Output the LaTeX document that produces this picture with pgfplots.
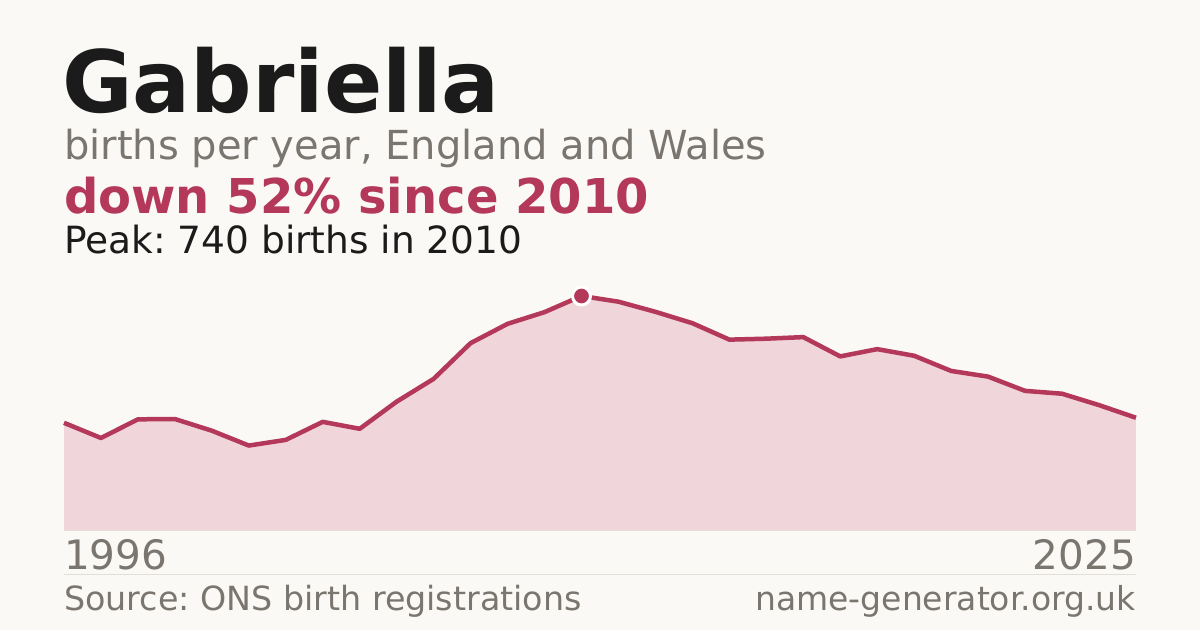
\documentclass[border=0pt]{standalone}
\usepackage{fontspec}
\setmainfont{DejaVu Sans}
\usepackage{pgfplots}
\pgfplotsset{compat=1.18}
\usepackage{pgfplotstable}

\definecolor{bg}{HTML}{FAF9F5}
\definecolor{ink}{HTML}{1B1B1B}
\definecolor{muted}{HTML}{7A756E}
\definecolor{accent}{HTML}{B3385A}
\definecolor{areafill}{HTML}{F0D5DA}
\definecolor{rule}{HTML}{E2DED8}

% births per year
\pgfplotstableread{
year births
1996 339
1997 291
1998 350
1999 351
2000 314
2001 267
2002 285
2003 342
2004 320
2005 406
2006 478
2007 591
2008 652
2009 689
2010 740
2011 722
2012 690
2013 654
2014 602
2015 605
2016 610
2017 549
2018 572
2019 551
2020 503
2021 485
2022 440
2023 431
2024 395
2025 355
}\births

\begin{document}
\frenchspacing
\begin{tikzpicture}[x=1pt,y=1pt]
  \fill[bg] (0,0) rectangle (1200,630);

  \node[anchor=base west,inner sep=0,text=ink]
    at (62,517) {\fontsize{86}{96}\selectfont\bfseries Gabriella};
  \node[anchor=base west,inner sep=0,text=muted]
    at (64,470) {\fontsize{40}{46}\selectfont births per year, England and Wales};
  \node[anchor=base west,inner sep=0,text=accent]
    at (64,416) {\fontsize{48}{54}\selectfont\bfseries down 52\% since 2010};
  \node[anchor=base west,inner sep=0,text=ink]
    at (64,376) {\fontsize{37.5}{42}\selectfont Peak: 740 births in 2010};

  \begin{axis}[
      at={(64pt,100pt)}, anchor=south west,
      scale only axis, width=1072pt, height=234pt,
      xmin=1996, xmax=2025, ymin=0, ymax=740,
      axis lines=none, clip=false,
    ]
    \addplot[fill=areafill, draw=none] table[x=year,y=births]{\births} \closedcycle;
    \draw[rule, line width=1pt] (rel axis cs:0,0) -- (rel axis cs:1,0);
    \addplot[accent, line width=4.5pt, line join=round, mark=none] table[x=year,y=births]{\births};
    \addplot[only marks, mark=*, mark size=9pt,
      mark options={fill=accent, draw=white, line width=3pt}]
      coordinates {(2010,740)};
  \end{axis}

  \node[anchor=base west,inner sep=0,text=muted]
    at (64,61) {\fontsize{40.5}{46}\selectfont 1996};
  \node[anchor=base east,inner sep=0,text=muted]
    at (1136,61) {\fontsize{40.5}{46}\selectfont 2025};
  \draw[rule, line width=1pt] (64,56) -- (1136,56);
  \node[anchor=base west,inner sep=0,text=muted]
    at (64,20) {\fontsize{33.3}{38}\selectfont Source: ONS birth registrations};
  \node[anchor=base east,inner sep=0,text=muted]
    at (1136,20) {\fontsize{33}{38}\selectfont name-generator.org.uk};
\end{tikzpicture}
\end{document}
